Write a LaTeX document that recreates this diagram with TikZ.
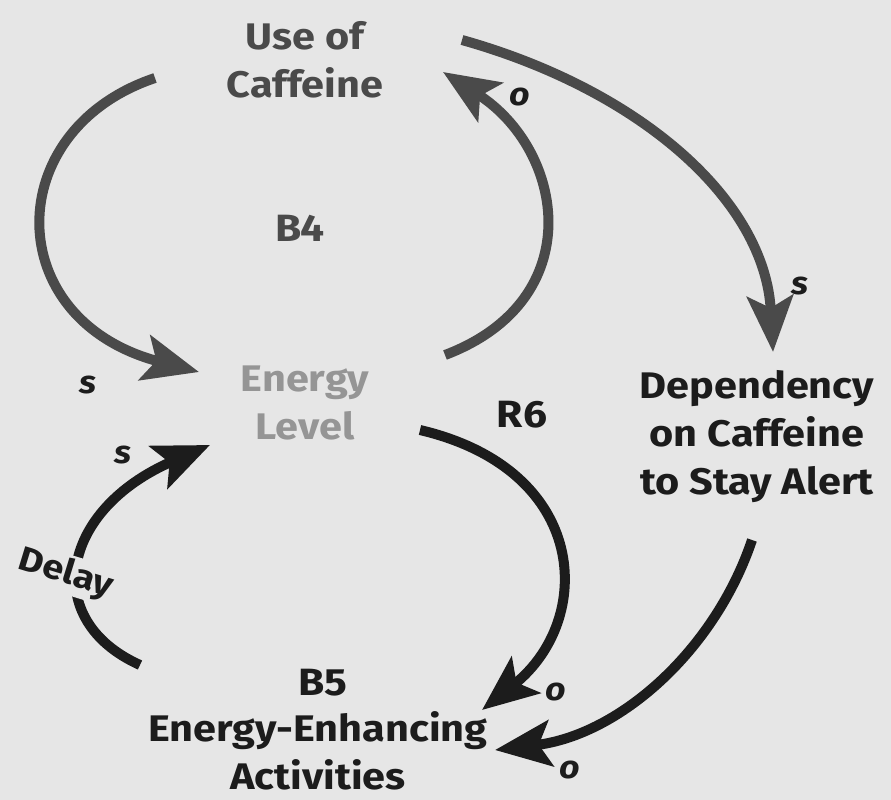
\documentclass[tikz,border=0pt]{standalone}
\usepackage{fontspec}
\setmainfont{Fira Sans}[FakeStretch=1.12]
\usetikzlibrary{arrows.meta,calc}
\definecolor{paper}{HTML}{E6E6E6}
\definecolor{ink}{HTML}{1C1C1C}
\definecolor{greyink}{HTML}{4A4A4A}
\definecolor{faint}{HTML}{959595}
\begin{document}
\begin{tikzpicture}[x=1pt,y=-1pt,
  var/.style={font=\fontsize{37}{48}\selectfont\bfseries, align=center, text=ink, inner sep=0pt},
  loopname/.style={font=\fontsize{38}{40}\selectfont\bfseries, text=ink, inner sep=0pt},
  pol/.style={font=\fontsize{32}{32}\selectfont\bfseries\itshape, text=ink, inner sep=0pt},
  link/.style={line width=10pt, draw=ink, -{Stealth[length=56pt,width=46pt,inset=12pt]}},
  greylink/.style={link, draw=greyink}]
  % paper
  \fill[paper] (0,0) rectangle (891,800);
  \useasboundingbox (0,0) rectangle (891,800);

  % variables
  \node[var, text=greyink] (uc) at (305,60) {Use of\\Caffeine};
  \node[var, text=faint] (el) at (305,403) {Energy\\Level};
  \node[var] (dep) at (757,437) {Dependency\\on Caffeine\\to Stay Alert};
  \node[var] (eea) at (318,751) {Energy-Enhancing\\Activities};

  % loop names
  \node[loopname, text=greyink] (b4) at (300,228) {B4};
  \node[loopname] (r6) at (522,415) {R6};
  \node[loopname] (b5) at (323,683) {B5};

  % causal links
  \draw[greylink] ($(uc)+(-150,18)$) .. controls (0,130) and (0,320) .. ($(el)+(-106,-31)$);
  \draw[greylink] ($(el)+(140,-48)$) .. controls (590,300) and (565,150) .. ($(uc)+(138,12)$);
  \draw[greylink] ($(uc)+(157,-20)$) .. controls (640,90) and (765,200) .. ($(dep)+(16,-85)$);
  \draw[link] ($(el)+(115,27)$) .. controls (590,470) and (595,620) .. ($(eea)+(164,-41)$);
  \draw[link] ($(dep)+(-5,103)$) .. controls (715,650) and (620,735) .. ($(eea)+(177,-1)$);
  \draw[link] ($(eea)+(-178,-86)$) .. controls (40,620) and (60,510) .. ($(el)+(-95,42)$);

  % delay mark sits on the link and interrupts it
  \node[font=\fontsize{34}{34}\selectfont\bfseries, text=ink, fill=paper, inner sep=3pt, rotate=-17] (delay) at (66,574) {Delay};

  % polarities
  \node[pol] (p1) at (88,385) {s};
  \node[pol] (p2) at (520,97) {o};
  \node[pol] (p3) at (800,286) {s};
  \node[pol] (p4) at (123,455) {s};
  \node[pol] (p5) at (556,692) {o};
  \node[pol] (p6) at (570,770) {o};
\end{tikzpicture}
\end{document}
